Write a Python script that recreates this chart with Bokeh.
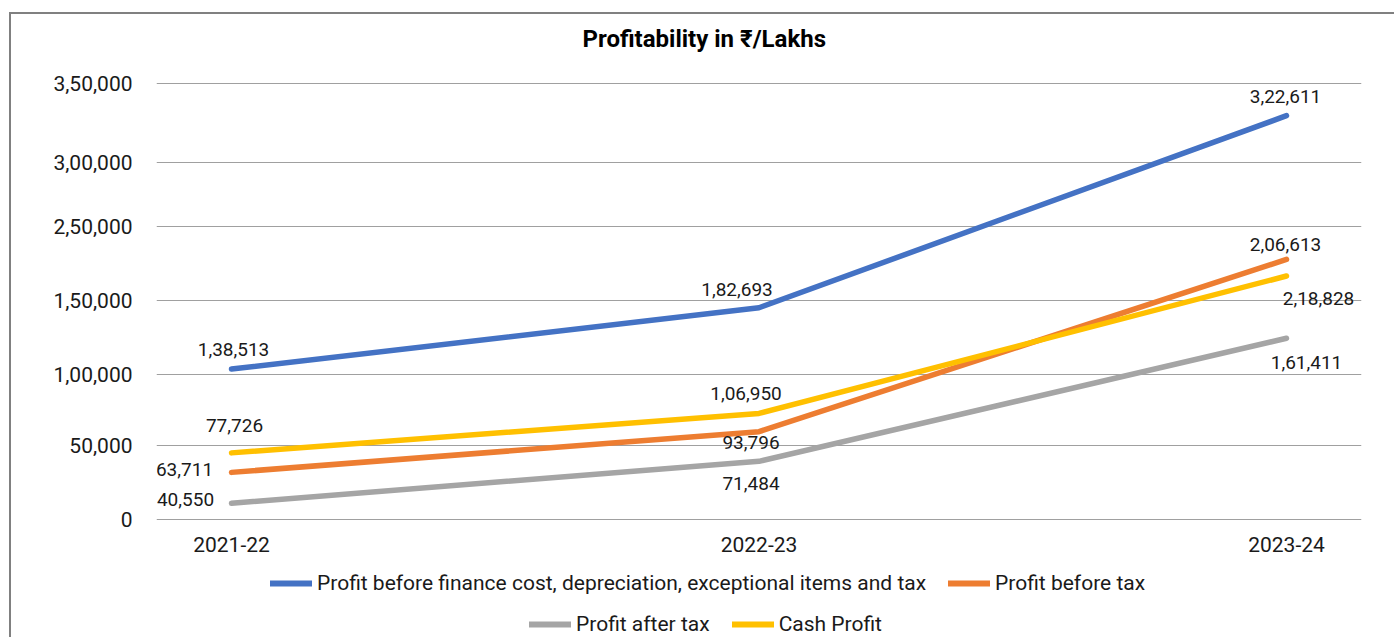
from bokeh.plotting import figure
from bokeh.layouts import column
from bokeh.models import ColumnDataSource, Legend, LegendItem, FixedTicker, Range1d
from bokeh.core.properties import value
from bokeh.embed import file_html
from bokeh.resources import INLINE

# ---------------- data ----------------
categories = ["2021-22", "2022-23", "2023-24"]
series_names = [
    "Profit before finance cost, depreciation, exceptional items and tax",
    "Profit before tax",
    "Profit after tax",
    "Cash Profit",
]
series_colors = ["#4472C4", "#ED7D31", "#A5A5A5", "#FFC000"]

# plotted positions (as drawn on the chart's axis)
pbdit_plot = [103200, 145400, 277400]
pbt_plot = [32200, 60200, 178600]
pat_plot = [11000, 39800, 124400]
cash_plot = [45600, 72700, 167200]

# data-label texts
pbdit_labels = ["1,38,513", "1,82,693", "3,22,611"]
pbt_labels = ["63,711", "93,796", "2,06,613"]
pat_labels = ["40,550", "71,484", "1,61,411"]
cash_labels = ["77,726", "1,06,950", "2,18,828"]

# y-axis gridlines / tick labels as they appear
y_tick_values = [0, 50760, 99740, 150030, 201000, 245180, 299580]
y_tick_labels = ["0", "50,000", "1,00,000", "1,50,000", "2,50,000", "3,00,000", "3,50,000"]

# label offsets (screen px) - styling only
label_dx = [[2, -22, -1], [-47, -8, -1], [-46, -8, 20], [3, -13, 32]]
label_dy = [[-20, -18, -19], [-3, 11, -15], [-4, 22, 24], [-27, -20, 22]]

FONT = "Roboto"
W = 1383
H_CHART = 549
H_LEGEND = 74

p = figure(
    width=W, height=H_CHART, output_backend="svg", toolbar_location=None,
    x_range=Range1d(-0.1422, 2.1422), y_range=Range1d(-2264, 314668),
    min_border_left=145, min_border_right=33, min_border_top=46, min_border_bottom=41,
)
p.outline_line_color = None
p.background_fill_color = "white"
p.border_fill_color = "white"

# title
p.title.text = "Profitability in \u20b9/Lakhs"
p.title.text_font = FONT
p.title.text_font_size = "24px"
p.title.text_font_style = "bold"
p.title.text_color = "#000000"
p.title.align = "left"
p.title.offset = 426
p.title.standoff = 17

# axes
xs = list(range(len(categories)))
p.xaxis.ticker = FixedTicker(ticks=xs)
p.xaxis.major_label_overrides = {i: c for i, c in enumerate(categories)}
p.yaxis.ticker = FixedTicker(ticks=y_tick_values)
p.yaxis.major_label_overrides = {v: t for v, t in zip(y_tick_values, y_tick_labels)}
for ax in (p.xaxis, p.yaxis):
    ax.axis_line_color = None
    ax.major_tick_line_color = None
    ax.minor_tick_line_color = None
    ax.major_tick_out = 0
    ax.major_tick_in = 0
    ax.major_label_text_font = FONT
    ax.major_label_text_color = "#1a1a1a"
    ax.major_label_text_font_size = "21px"
p.xaxis.major_label_standoff = 14
p.yaxis.major_label_standoff = 24

p.xgrid.grid_line_color = None
p.ygrid.grid_line_color = "#a0a0a0"
p.ygrid.grid_line_width = 1.2

plots = [pbdit_plot, pbt_plot, pat_plot, cash_plot]
labels = [pbdit_labels, pbt_labels, pat_labels, cash_labels]
for vals, col in zip(plots, series_colors):
    p.line(xs, vals, line_color=col, line_width=5.5, line_cap="round", line_join="round")

for vals, labs, dx, dy in zip(plots, labels, label_dx, label_dy):
    src = ColumnDataSource(dict(x=xs, y=vals, t=labs, dx=dx, dy=dy))
    p.text(x="x", y="y", text="t", x_offset="dx", y_offset="dy", source=src,
           text_font=value(FONT), text_font_size="19px", text_color="#1a1a1a",
           text_align="center", text_baseline="middle")

# ---------------- legend strip (separate figure below the chart) ----------------
# its frame is aligned with the chart frame by the column layout;
# the series are drawn there too but kept outside its visible y-range
lf = figure(width=W, height=H_LEGEND, output_backend="svg", toolbar_location=None,
            x_axis_type=None, y_axis_type=None,
            x_range=Range1d(-0.1422, 2.1422), y_range=Range1d(-20, -10),
            min_border_left=145, min_border_right=33, min_border_top=0, min_border_bottom=0)
lf.outline_line_color = None
lf.background_fill_color = "white"
lf.border_fill_color = "white"

key_renderers = [lf.line(xs, vals, line_color=c, line_width=6, line_cap="round")
                 for vals, c in zip(plots, series_colors)]

def make_legend(idx, loc):
    lg = Legend(items=[LegendItem(label=series_names[i], renderers=[key_renderers[i]]) for i in idx],
                orientation="horizontal", location=loc)
    lg.border_line_color = None
    lg.background_fill_alpha = 0
    lg.label_text_font = FONT
    lg.label_text_font_size = "21px"
    lg.label_text_color = "#1a1a1a"
    lg.glyph_width = 42
    lg.glyph_height = 20
    lg.label_standoff = 5
    lg.spacing = 22
    lg.padding = 0
    lg.margin = 0
    return lg

lf.add_layout(make_legend([0, 1], (114, 42)), "center")
lf.add_layout(make_legend([2, 3], (373, 1)), "center")

layout = column(p, lf, spacing=0)
layout.styles = {"margin-left": "9px", "margin-top": "12px",
                 "border-left": "2px solid #808080", "border-top": "2px solid #808080"}

open("out.html", "w").write(file_html(layout, INLINE))
